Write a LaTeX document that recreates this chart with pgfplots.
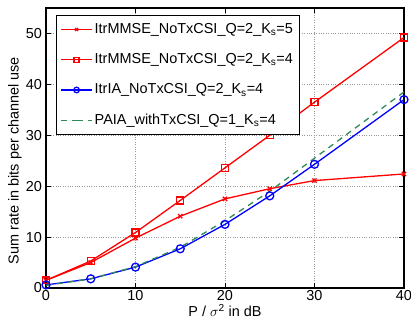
\documentclass[border=0pt]{standalone}
\usepackage{pgfplots}
\pgfplotsset{compat=1.18}
\usepackage{fontspec}
\setmainfont{Liberation Sans}
\definecolor{mgreen}{RGB}{46,139,87}
\begin{document}
\fontsize{14.5}{16}\selectfont
\begin{tikzpicture}
\begin{axis}[name=ax,
  scale only axis, width=358bp, height=280bp,
  xmin=0, xmax=40, ymin=0, ymax=55,
  xtick={0,10,20,30,40}, ytick={0,10,20,30,40,50},
  tick align=inside, ticks=both, major tick length=5bp,
  tick style={black, line width=0.8pt},
  grid=major, grid style={dotted, gray!80, line width=0.7pt},
  axis line style={line width=1.6pt},
  /pgf/number format/assume math mode=true,
  ticklabel style={font=\fontsize{14.5}{16}\selectfont},
  yticklabel style={xshift=1bp},
  xticklabel style={yshift=3bp},
  xlabel={P / $\sigma$\textsuperscript{2} in dB},
  ylabel={Sum rate in bits per channel use},
  xlabel style={at={(axis description cs:0.5,0)}, anchor=base, yshift=-28.5bp, font=\fontsize{14.5}{16}\selectfont},
  ylabel style={at={(axis description cs:0,0.455)}, anchor=center, yshift=31bp, font=\fontsize{14.5}{16}\selectfont},
  legend style={at={(0.028,0.975)}, anchor=north west, draw=black, line width=0.8pt,
    font=\fontsize{14.5}{16}\selectfont, row sep=14bp, inner xsep=4bp, inner ysep=6bp, cells={anchor=west}},
  legend cell align=left,
  every axis plot/.append style={line width=1.3pt},
  legend image code/.code={\draw[#1] (0bp,0bp) -- (15.5bp,0bp) (15.5bp,0bp) -- (31bp,0bp); \draw[#1,only marks, mark options={scale=0.7}] plot coordinates {(15.5bp,0bp)};},
]
\addplot[red, mark=x, mark size=3pt] coordinates {(0,1.5)(5,5.0)(10,9.8)(15,14.1)(20,17.5)(25,19.5)(30,21.1)(40,22.4)};
\addlegendentry{ItrMMSE\_NoTxCSI\_Q=2\_K\textsubscript{s}=5}
\addplot[red, mark=square, mark size=3.5pt] coordinates {(0,1.5)(5,5.3)(10,10.9)(15,17.2)(20,23.6)(25,30.0)(30,36.5)(40,49.2)};
\addlegendentry{ItrMMSE\_NoTxCSI\_Q=2\_K\textsubscript{s}=4}
\addplot[blue, mark=o, mark size=4pt] coordinates {(0,0.6)(5,1.8)(10,4.1)(15,7.7)(20,12.5)(25,18.1)(30,24.3)(40,37.0)};
\addlegendentry{ItrIA\_NoTxCSI\_Q=2\_K\textsubscript{s}=4}
\addplot[mgreen, dashed, dash pattern=on 6bp off 5bp] coordinates {(0,0.5)(5,1.8)(10,4.2)(15,8.0)(20,13.2)(25,19.0)(30,25.5)(40,38.5)};
\addlegendentry{PAIA\_withTxCSI\_Q=1\_K\textsubscript{s}=4}
\end{axis}
\pgfresetboundingbox
\path ([shift={(-46bp,-42bp)}]ax.south west) rectangle ([shift={(7bp,8bp)}]ax.north east);
\end{tikzpicture}
\end{document}
